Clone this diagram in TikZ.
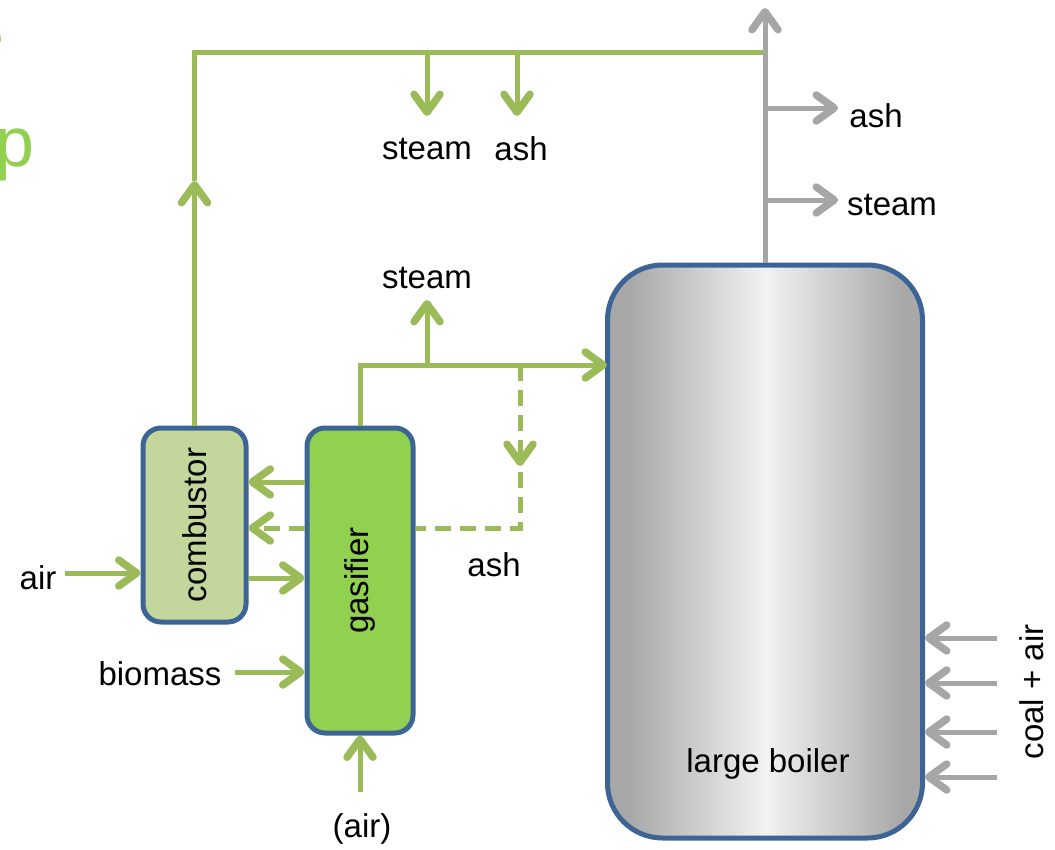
\documentclass[tikz,border=0pt]{standalone}
\usepackage{fontspec}
\setmainfont{Liberation Sans}
\usetikzlibrary{arrows.meta}
\definecolor{lgreen}{HTML}{9BBB59}
\definecolor{tgreen}{HTML}{92D050}
\definecolor{bblue}{HTML}{3C6494}
\definecolor{combfill}{HTML}{C3D69B}
\definecolor{gasfill}{HTML}{92D050}
\definecolor{lgray}{HTML}{A6A6A6}
\begin{document}
\begin{tikzpicture}[x=1pt,y=-1pt,
  every node/.style={font=\fontsize{33}{40}\selectfont, inner sep=0pt},
  gline/.style={draw=lgreen, line width=5pt},
  tipg/.tip={Straight Barb[length=18pt,width=26pt,round,line width=0pt 1.5]},
  garr/.style={gline, -tipg},
  gdash/.style={dash pattern=on 16pt off 9pt},
  grarr/.style={draw=lgray, line width=5pt, -tipg},
  unitbox/.style={draw=bblue, line width=5pt, rounded corners=18pt}]
\useasboundingbox (0,0) rectangle (1055,849);
% clipped title letters
\node[text=tgreen, font=\fontsize{70}{80}\selectfont, anchor=base east] (tp) at (35,166) {p};
\node[text=tgreen, font=\fontsize{70}{80}\selectfont, anchor=base east] (te) at (4.5,59) {e};
% large boiler gradient
\begin{scope}
  \clip[rounded corners=55pt] (607.5,265) rectangle (922.5,838);
  \foreach \i in {0,...,160}{
    \pgfmathsetmacro{\xx}{604+2*\i}
    \pgfmathsetmacro{\pp}{5+29*min(1,abs(\xx-765)/136)}
    \fill[black!\pp] (\xx,265) rectangle ({\xx+2.3},838);
  }
\end{scope}
\node[draw=bblue, line width=5pt, rounded corners=55pt, minimum width=315pt, minimum height=573pt] (boiler) at (765,551.5) {};
\node (lb) at (768,764) {large boiler};
% units
\node[unitbox, fill=combfill, minimum width=103pt, minimum height=194pt] (comb) at (194.5,525) {};
\node[rotate=90] (combt) at (comb) {combustor};
\node[unitbox, fill=gasfill, minimum width=106pt, minimum height=305pt] (gas) at (360,580.5) {};
\node[rotate=90] (gast) at (gas) {gasifier};
% coordinates
\coordinate (c1) at (194.5,181);
\coordinate (c2) at (194.5,52);
\coordinate (c3) at (765,52);
\coordinate (s1) at (427,52);
\coordinate (s1e) at (427,116);
\coordinate (a1) at (517,52);
\coordinate (a1e) at (517,116);
\coordinate (g1) at (360,365);
\coordinate (g2) at (427,365);
\coordinate (g2e) at (427,300);
\coordinate (g3) at (607,365);
\coordinate (d1) at (520,365);
\coordinate (d1e) at (520,466);
\coordinate (d2) at (520,472);
\coordinate (d3) at (520,528);
\coordinate (air0) at (65,573);
\coordinate (bio0) at (235,672);
\coordinate (air2) at (360,792);
% labels
\node (lsteam1) at (427,149) {steam};
\node (lash1) at (521,149) {ash};
\node (lsteam2) at (427,278) {steam};
\node (lash2) at (876,116) {ash};
\node (lsteam3) at (892,205) {steam};
\node (lash3) at (494,565) {ash};
\node (lair) at (38,578) {air};
\node (lbio) at (160,674) {biomass};
\node (lair2) at (362,829) {(air)};
\node[rotate=90] (lcoal) at (1032,692) {coal + air};
% green connectors
\draw[garr] (comb.north) -- (c1);
\draw[gline] (c1) -- (c2) -- (c3);
\draw[garr] (s1) -- (s1e);
\draw[garr] (a1) -- (a1e);
\draw[gline] (gas.north) -- (g1) -- (g2);
\draw[garr] (g2) -- (g3);
\draw[garr] (g2) -- (g2e);
\draw[garr, gdash] (d1) -- (d1e);
\draw[gline, gdash] (d2) -- (d3) -- (gas.east |- d3);
\draw[garr, gdash] (gas.west |- d3) -- (comb.east |- d3);
\draw[garr] (gas.west |- 0,482) -- (comb.east |- 0,482);
\draw[garr] (comb.east |- 0,578) -- (gas.west |- 0,578);
\draw[garr] (air0) -- (comb.west |- air0);
\draw[garr] (bio0) -- (gas.west |- bio0);
\draw[garr] (air2) -- (gas.south);
% gray connectors
\coordinate (t1) at (765,8);
\coordinate (h1) at (765,108);
\coordinate (h1e) at (838,108);
\coordinate (h2) at (765,200);
\coordinate (h2e) at (838,200);
\draw[grarr] (boiler.north) -- (t1);
\draw[grarr] (h1) -- (h1e);
\draw[grarr] (h2) -- (h2e);
\foreach \yy/\nm in {638/k1,683/k2,732/k3,777/k4}{
  \coordinate (\nm) at (997,\yy);
  \draw[grarr] (\nm) -- (boiler.east |- \nm);
}
\end{tikzpicture}
\end{document}
